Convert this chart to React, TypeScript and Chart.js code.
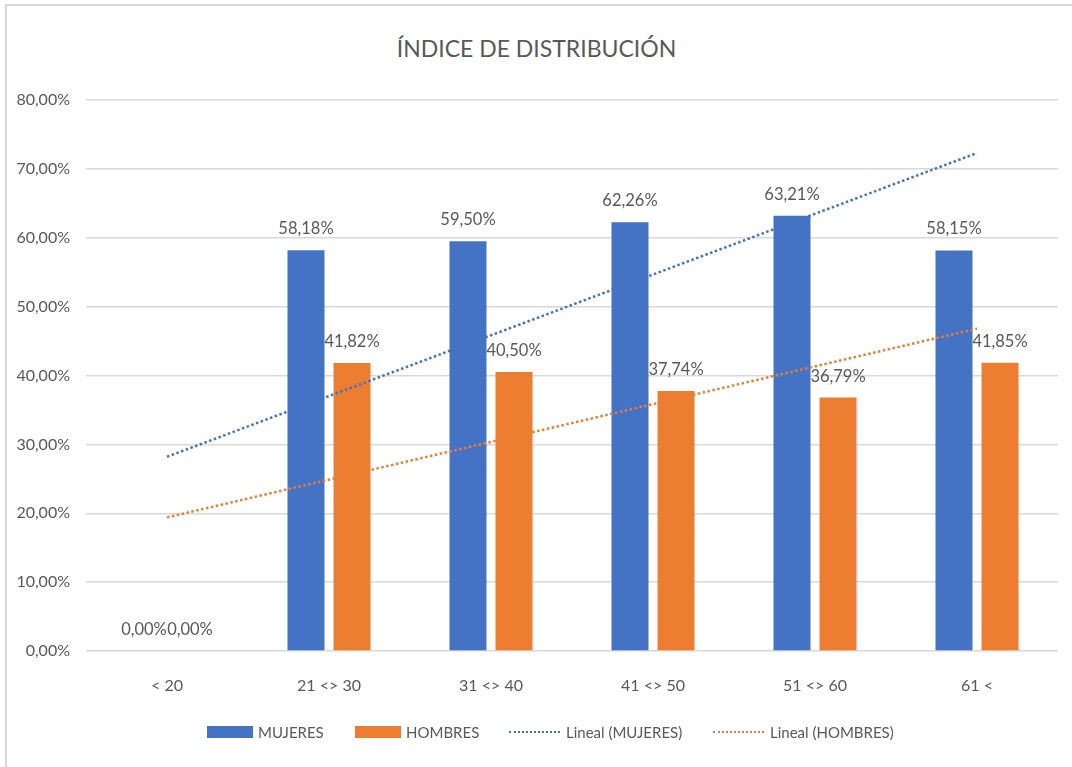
import React, { useEffect, useRef } from "react";
import { Chart, registerables } from "chart.js";

Chart.register(...registerables);

const categories = ["< 20", "21 <> 30", "31 <> 40", "41 <> 50", "51 <> 60", "61 <"];
const mujeres = [0, 58.18, 59.5, 62.26, 63.21, 58.15];
const hombres = [0, 41.82, 40.5, 37.74, 36.79, 41.85];
// Linear trendlines (Excel "Lineal"), endpoints
const trendMujeres = [28.2, null, null, null, null, 72.3];
const trendHombres = [19.4, null, null, null, null, 46.8];
const yTicks = [0, 10, 20, 30, 40, 50, 60, 70, 80];

const BLUE = "#4472C4";
const ORANGE = "#ED7D31";
const TEXT = "#595959";
const GRID = "#D9D9D9";
const FONT = "Lato, 'Open Sans', sans-serif";

const fmt = (v: number) => v.toFixed(2).replace(".", ",") + "%";

const labelPlugin = {
  id: "barLabels",
  afterDatasetsDraw(chart: any) {
    const ctx = chart.ctx;
    ctx.save();
    ctx.font = `16.5px ${FONT}`;
    ctx.fillStyle = TEXT;
    ctx.textAlign = "center";
    ctx.textBaseline = "alphabetic";
    [0, 1].forEach((di) => {
      const meta = chart.getDatasetMeta(di);
      const data = chart.data.datasets[di].data;
      meta.data.forEach((bar: any, i: number) => {
        ctx.fillText(fmt(data[i]), bar.x, bar.y - 16);
      });
    });
    ctx.restore();
  },
};

export default function App() {
  const ref = useRef<HTMLCanvasElement>(null);
  useEffect(() => {
    const chart = new Chart(ref.current!, {
      type: "bar",
      data: {
        labels: categories,
        datasets: [
          {
            label: "MUJERES",
            data: mujeres,
            backgroundColor: BLUE,
            categoryPercentage: 0.568,
            barPercentage: 0.804,
            order: 2,
          },
          {
            label: "HOMBRES",
            data: hombres,
            backgroundColor: ORANGE,
            categoryPercentage: 0.568,
            barPercentage: 0.804,
            order: 2,
          },
          {
            type: "line",
            label: "Lineal (MUJERES)",
            data: trendMujeres as any,
            borderColor: BLUE,
            borderWidth: 2.5,
            borderDash: [2.5, 2.5],
            pointRadius: 0,
            spanGaps: true,
            order: 1,
          } as any,
          {
            type: "line",
            label: "Lineal (HOMBRES)",
            data: trendHombres as any,
            borderColor: ORANGE,
            borderWidth: 2.5,
            borderDash: [2.5, 2.5],
            pointRadius: 0,
            spanGaps: true,
            order: 1,
          } as any,
        ],
      },
      options: {
        responsive: false,
        animation: false,
        layout: { padding: { top: 100, right: 14, bottom: 0, left: 0 } },
        plugins: {
          legend: { display: false },
          title: { display: false },
          tooltip: { enabled: false },
        },
        scales: {
          x: {
            grid: { display: false, drawTicks: false },
            border: { display: false },
            ticks: { color: TEXT, font: { family: FONT, size: 16 }, padding: 25, maxRotation: 0 },
            afterFit: (s: any) => {
              s.height = 116;
            },
          },
          y: {
            min: 0,
            max: 80,
            afterBuildTicks: (s: any) => {
              s.ticks = yTicks.map((v) => ({ value: v }));
            },
            grid: { color: GRID, lineWidth: 1.5, drawTicks: false },
            border: { display: false },
            ticks: {
              color: TEXT,
              font: { family: FONT, size: 16 },
              padding: 16,
              callback: (v: any) => fmt(Number(v)),
            },
            afterFit: (s: any) => {
              s.width = 86;
            },
          },
        },
      },
      plugins: [labelPlugin],
    });
    return () => chart.destroy();
  }, []);

  const legendItem = (kind: "box" | "dot", color: string, text: string, left: number) => (
    <div
      style={{
        position: "absolute",
        left,
        top: 722,
        height: 20,
        display: "flex",
        alignItems: "center",
        fontFamily: FONT,
        fontSize: 15,
        color: TEXT,
        whiteSpace: "nowrap",
      }}
    >
      {kind === "box" ? (
        <span style={{ display: "inline-block", width: 46, height: 12, background: color, marginRight: 5 }} />
      ) : (
        <span
          style={{
            display: "inline-block",
            width: 51,
            height: 0,
            borderTop: `2.5px dotted ${color}`,
            marginRight: 6,
          }}
        />
      )}
      <span>{text}</span>
    </div>
  );

  return (
    <div
      style={{
        position: "fixed",
        left: 0,
        top: 0,
        width: 1072,
        height: 767,
        background: "#fff",
        overflow: "hidden",
      }}
    >
      <div
        style={{
          position: "absolute",
          left: 5,
          top: 4,
          width: 1100,
          height: 800,
          borderLeft: `2px solid ${GRID}`,
          borderTop: `2px solid ${GRID}`,
        }}
      />
      <div
        style={{
          position: "absolute",
          left: 0,
          top: 30,
          width: 1073,
          textAlign: "center",
          fontFamily: FONT,
          fontSize: 23,
          color: TEXT,
          lineHeight: "36px",
        }}
      >
        ÍNDICE DE DISTRIBUCIÓN
      </div>
      <canvas ref={ref} width={1072} height={767} style={{ position: "absolute", left: 0, top: 0 }} />
      {legendItem("box", BLUE, "MUJERES", 207)}
      {legendItem("box", ORANGE, "HOMBRES", 355)}
      {legendItem("dot", BLUE, "Lineal (MUJERES)", 509)}
      {legendItem("dot", ORANGE, "Lineal (HOMBRES)", 713)}
    </div>
  );
}
